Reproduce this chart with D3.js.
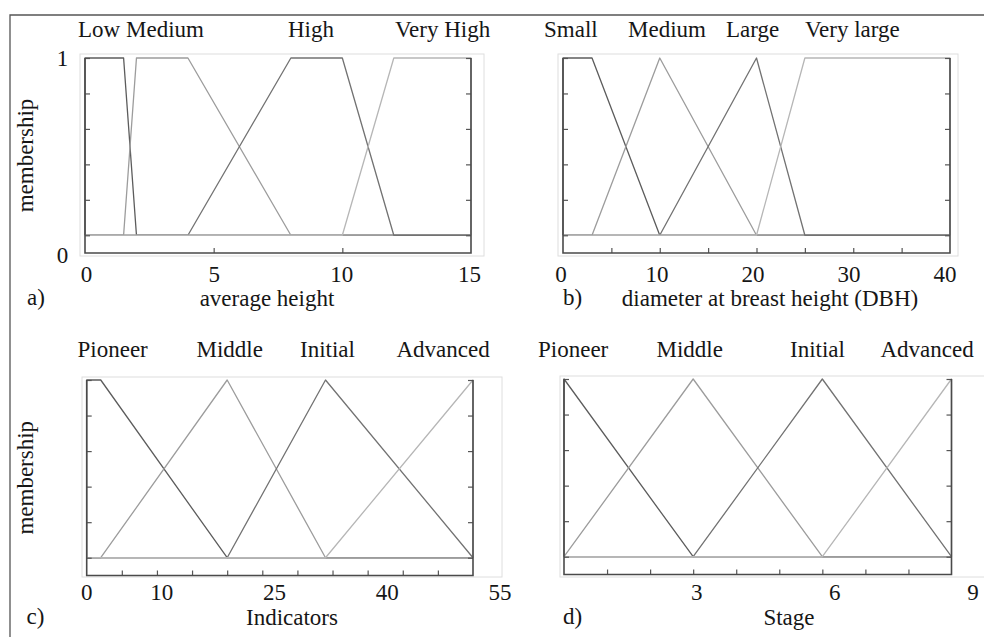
<!DOCTYPE html>
<html lang="en">
<head>
<meta charset="UTF-8">
<title>Membership functions</title>
<script src="https://d3js.org/d3.v7.min.js"></script>
<style>
  * { margin: 0; padding: 0; }
  body { background: #fff; }
  svg text { font-family: "Liberation Serif", "Times New Roman", serif; font-size: 23px; fill: #161616; }
</style>
</head>
<body>
<svg id="chart" width="984" height="637"></svg>
<script>
// ---- data ----
// a) average height
const heightCats = ['Low', 'Medium', 'High', 'Very High'];
const heightDomain = [0, 15];
const heightMF = [[0, 0, 1.5, 2], [1.5, 2, 4, 8], [4, 8, 10, 12], [10, 12, 15, 15]];
const heightTicks = [0, 5, 10, 15];
const heightMinor = [5, 10];

// b) diameter at breast height
const dbhCats = ['Small', 'Medium', 'Large', 'Very large'];
const dbhDomain = [0, 40];
const dbhMF = [[0, 0, 3, 10], [3, 10, 10, 20], [10, 20, 20, 25], [20, 25, 40, 40]];
const dbhTicks = [0, 10, 20, 30, 40];
const dbhMinor = [5, 10, 15, 20, 25, 30, 35];

// c) indicators
const indCats = ['Pioneer', 'Middle', 'Initial', 'Advanced'];
const indDomain = [0, 55];
const indMF = [[0, 0, 2, 20], [2, 20, 20, 34], [20, 34, 34, 55], [34, 55, 55, 55]];
const indTicks = [0, 10, 25, 40, 55];
const indMinor = [5, 10, 15, 20, 25, 30, 35, 40, 45, 50];

// d) stage
const stageCats = ['Pioneer', 'Middle', 'Initial', 'Advanced'];
const stageDomain = [0, 9];
const stageMF = [[0, 0, 0, 3], [0, 3, 3, 6], [3, 6, 6, 9], [6, 9, 9, 9]];
const stageTicks = [3, 6, 9];
const stageMinor = [1, 2, 3, 4, 5, 6, 7, 8];

const memTicks = [0, 0.2, 0.4, 0.6, 0.8, 1];

// ---- layout ----
const lineColors = ['#5c5c5c', '#9c9c9c', '#727272', '#b6b6b6'];

const panels = [
  { letter: 'a)', title: 'average height', cats: heightCats, domain: heightDomain, mf: heightMF,
    ticks: heightTicks, minor: heightMinor,
    x0: 85, x1: 471, yTop: 58, yBot: 253, frame: [80, 54, 484, 256],
    labelRange: [86.5, 469.5], catX: [78, 126, 288, 395], catY: 36.5,
    tickY: 281.5, titleY: 306, titleX: 267, letterX: 27, ylabel: true, y01: true },
  { letter: 'b)', title: 'diameter at breast height (DBH)', cats: dbhCats, domain: dbhDomain, mf: dbhMF,
    ticks: dbhTicks, minor: dbhMinor,
    x0: 563, x1: 950, yTop: 58, yBot: 253, frame: [558, 54, 958, 256],
    labelRange: [561, 945], catX: [544, 628, 726, 805], catY: 36.5,
    tickY: 281.5, titleY: 306, titleX: 770, letterX: 563, ylabel: false, y01: false },
  { letter: 'c)', title: 'Indicators', cats: indCats, domain: indDomain, mf: indMF,
    ticks: indTicks, minor: indMinor,
    x0: 86.7, x1: 473, yTop: 380, yBot: 575.5, frame: [82, 377, 502, 577],
    labelRange: [86.7, 500], catX: [77.5, 196.5, 300, 396.5], catY: 356.5,
    tickY: 600, titleY: 625, titleX: 292, letterX: 26.5, ylabel: true, y01: false },
  { letter: 'd)', title: 'Stage', cats: stageCats, domain: stageDomain, mf: stageMF,
    ticks: stageTicks, minor: stageMinor,
    x0: 564, x1: 951.5, yTop: 379, yBot: 574.5, frame: [560, 376, 995, 577],
    labelRange: [558.5, 973], catX: [538, 656.5, 790, 880.5], catY: 356.5,
    tickY: 600, titleY: 625, titleX: 789, letterX: 563, ylabel: false, y01: false }
];

const svg = d3.select('#chart');

// outer border (top and left only)
svg.append('path')
  .attr('d', 'M10,637 L10,15 L984,15')
  .attr('fill', 'none').attr('stroke', '#555').attr('stroke-width', 1.3);

// trapezoid -> polyline across the whole domain
function mfPoints(p, dom) {
  return [[dom[0], 0], [p[0], 0], [p[1], 1], [p[2], 1], [p[3], 0], [dom[1], 0]];
}

panels.forEach(p => {
  const g = svg.append('g');
  const x = d3.scaleLinear().domain(p.domain).range([p.x0, p.x1]);
  const y = d3.scaleLinear().domain([-0.1, 1]).range([p.yBot, p.yTop]);
  const xl = d3.scaleLinear().domain([p.ticks[0] === 0 ? 0 : p.domain[0], p.domain[1]]).range(p.labelRange);

  // faint outer frame
  const f = p.frame;
  g.append('rect')
    .attr('x', f[0]).attr('y', f[1]).attr('width', f[2] - f[0]).attr('height', f[3] - f[1])
    .attr('fill', 'none').attr('stroke', '#dedede').attr('stroke-width', 1);

  // membership curves
  const line = d3.line().x(d => x(d[0])).y(d => y(d[1]));
  p.mf.forEach((m, i) => {
    g.append('path')
      .datum(mfPoints(m, p.domain))
      .attr('d', line)
      .attr('fill', 'none')
      .attr('stroke', lineColors[i])
      .attr('stroke-width', 1.3)
      .attr('stroke-linejoin', 'round');
  });

  // inward ticks
  g.append('g').attr('transform', `translate(0,${p.yBot})`)
    .call(d3.axisBottom(x).tickValues(p.minor).tickSize(-5).tickFormat(''))
    .call(s => s.select('.domain').remove());
  g.append('g').attr('transform', `translate(${p.x0},0)`)
    .call(d3.axisLeft(y).tickValues(memTicks).tickSize(-5).tickFormat(''))
    .call(s => s.select('.domain').remove());
  g.append('g').attr('transform', `translate(${p.x1},0)`)
    .call(d3.axisRight(y).tickValues(memTicks).tickSize(-5).tickFormat(''))
    .call(s => s.select('.domain').remove());
  g.selectAll('.tick line').attr('stroke', '#555').attr('stroke-width', 1.2);

  // axis box: left, bottom, right dark
  g.append('path')
    .attr('d', `M${p.x0},${y(1)} L${p.x0},${p.yBot} L${p.x1},${p.yBot} L${p.x1},${y(1)}`)
    .attr('fill', 'none').attr('stroke', '#4a4a4a').attr('stroke-width', 1.6);

  // category labels
  p.cats.forEach((c, i) => {
    g.append('text').attr('x', p.catX[i]).attr('y', p.catY).text(c);
  });

  // x tick labels
  g.selectAll('.xlab').data(p.ticks).enter().append('text')
    .attr('x', d => xl(d)).attr('y', p.tickY)
    .attr('text-anchor', 'middle')
    .text(d => d);

  // axis title and panel letter
  g.append('text').attr('x', p.titleX).attr('y', p.titleY).attr('text-anchor', 'middle').text(p.title);
  g.append('text').attr('x', p.letterX).attr('y', p.titleY - 1).text(p.letter);

  if (p.ylabel) {
    const cy = (y(1) + p.yBot) / 2;
    g.append('text')
      .attr('transform', `translate(33,${cy}) rotate(-90)`)
      .attr('text-anchor', 'middle')
      .text('membership');
  }
  if (p.y01) {
    g.append('text').attr('x', 62.5).attr('y', y(1) + 8).attr('text-anchor', 'middle').text('1');
    g.append('text').attr('x', 62.5).attr('y', p.yBot + 10).attr('text-anchor', 'middle').text('0');
  }
});
</script>
</body>
</html>
